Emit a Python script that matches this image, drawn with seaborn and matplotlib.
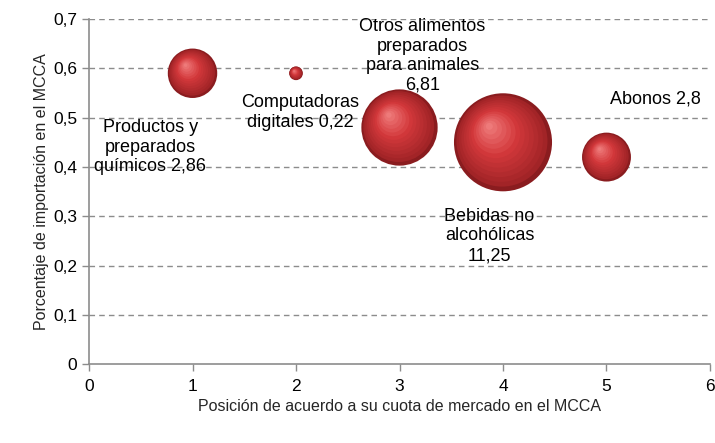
import numpy as np
import pandas as pd
import matplotlib
matplotlib.use("Agg")
import matplotlib.pyplot as plt
import matplotlib.transforms as mtransforms
from matplotlib.colors import to_rgb
import seaborn as sns

# data
productos = ["Productos y\npreparados\nquímicos", "Computadoras\ndigitales",
             "Otros alimentos\npreparados\npara animales", "Bebidas no\nalcohólicas", "Abonos"]
posicion = [1, 2, 3, 4, 5]
importacion = [0.59, 0.59, 0.48, 0.45, 0.42]
cuota = [2.86, 0.22, 6.81, 11.25, 2.8]
cuota_txt = ["2,86", "0,22", "6,81", "11,25", "2,8"]

df = pd.DataFrame({"posicion": posicion, "importacion": importacion, "cuota": cuota})

sns.set_theme(style="white")
plt.rcParams["font.family"] = ["Liberation Sans", "DejaVu Sans"]

fig = plt.figure(figsize=(7.15, 4.43), dpi=100)
ax = fig.add_axes([0.1245, 0.178, 0.8685, 0.779])

k = 443  # marker area per unit of cuota (points^2)
dark = "#8A1C1F"
sns.scatterplot(data=df, x="posicion", y="importacion", size="cuota",
                sizes=(min(cuota) * k, max(cuota) * k), size_norm=(min(cuota), max(cuota)),
                color=dark, edgecolor="none", legend=False, ax=ax, zorder=3)

# shading layers to give the spheres a lit look
c0 = np.array(to_rgb("#9A2124"))
c1 = np.array(to_rgb("#D3383B"))
c2 = np.array(to_rgb("#EE7A7A"))
n = 14
for xi, yi, v in zip(posicion, importacion, cuota):
    s = v * k
    r = np.sqrt(s) / 2
    for j in range(1, n):
        f = 1 - j / n
        t = j / (n - 1)
        col = c0 + (c1 - c0) * min(1, t * 1.8) if t < 0.55 else c1 + (c2 - c1) * (t - 0.55) / 0.45
        tr = mtransforms.offset_copy(ax.transData, fig=fig,
                                     x=-0.3 * r * (1 - f), y=0.35 * r * (1 - f), units="points")
        ax.scatter([xi], [yi], s=s * f ** 2, color=np.clip(col, 0, 1),
                   edgecolor="none", transform=tr, zorder=3 + j * 0.01)

# labels
lab_x = [0.59, 2.04, 3.22, 3.87, 5.47]
lab_y = [0.44, 0.511, 0.625, 0.26, 0.537]
for lx, ly, name, val in zip(lab_x, lab_y, productos, cuota_txt):
    if name in ("Otros alimentos\npreparados\npara animales", "Bebidas no\nalcohólicas"):
        txt = f"{name}\n{val}"
    else:
        txt = f"{name} {val}"
    ax.text(lx, ly, txt, ha="center", va="center", fontsize=13, color="black",
            linespacing=1.2, zorder=6)

ax.set_xlim(0, 6)
ax.set_ylim(0, 0.7)
ax.set_xticks(range(0, 7))
yt = [0, 0.1, 0.2, 0.3, 0.4, 0.5, 0.6, 0.7]
ax.set_yticks(yt)
ax.set_yticklabels(["0"] + [f"{v:.1f}".replace(".", ",") for v in yt[1:]])
for v in yt[1:]:
    ax.axhline(v, color="#8C8C8C", lw=1, ls=(0, (4, 3)), zorder=1)

for side in ("top", "right"):
    ax.spines[side].set_visible(False)
for side in ("left", "bottom"):
    ax.spines[side].set_color("#8C8C8C")
    ax.spines[side].set_linewidth(1.2)
ax.tick_params(axis="both", direction="out", length=5, width=1, color="#8C8C8C",
               labelsize=12.5, labelcolor="black", bottom=True, left=True)
ax.tick_params(axis="x", pad=6)

ax.set_xlabel("Posición de acuerdo a su cuota de mercado en el MCCA", fontsize=11.5, labelpad=3)
ax.set_ylabel("Porcentaje de importación en el MCCA", fontsize=11.5, labelpad=3)

fig.savefig("out.png", dpi=100)
